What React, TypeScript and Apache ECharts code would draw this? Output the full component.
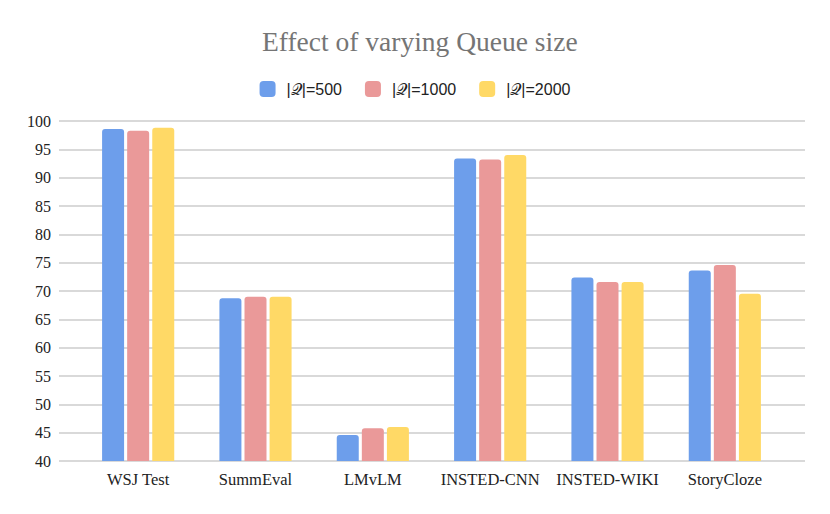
import React, { useEffect, useRef } from "react";
import * as echarts from "echarts";

const categories = ["WSJ Test", "SummEval", "LMvLM", "INSTED-CNN", "INSTED-WIKI", "StoryCloze"];
const seriesNames = ["|𝒬|=500", "|𝒬|=1000", "|𝒬|=2000"];
const q500 = [98.6, 68.7, 44.6, 93.4, 72.4, 73.6];
const q1000 = [98.3, 69.0, 45.8, 93.2, 71.6, 74.6];
const q2000 = [98.8, 69.0, 46.0, 94.0, 71.6, 69.5];
const colors = ["#6d9eeb", "#ea9999", "#ffd966"];

export default function App() {
  const ref = useRef<HTMLDivElement>(null);
  useEffect(() => {
    if (!ref.current) return;
    const chart = echarts.init(ref.current, undefined, { renderer: "svg" });
    const data = [q500, q1000, q2000];
    const labelFont = {
      fontFamily: "Liberation Serif",
      fontSize: 16.5,
      color: "#222",
    };
    chart.setOption({
      animation: false,
      backgroundColor: "#ffffff",
      title: {
        text: "Effect of varying Queue size",
        left: 249,
        top: 14,
        textStyle: {
          fontFamily: "Liberation Serif",
          fontSize: 27.5,
          fontWeight: "normal",
          color: "#757575",
        },
      },
      legend: {
        top: 68,
        left: "center",
        itemWidth: 16,
        itemHeight: 16,
        itemGap: 23,
        icon: "roundRect",
        textStyle: {
          fontFamily: "Liberation Sans, DejaVu Sans",
          fontSize: 16,
          color: "#222",
          padding: [0, 0, 0, 6],
        },
        data: seriesNames,
      },
      grid: [
        { left: 51, right: 17, top: 113, bottom: 45, containLabel: false },
        { left: 71.5, right: 38.5, top: 113, bottom: 45, containLabel: false },
      ],
      xAxis: [
        { type: "value", gridIndex: 0, min: 0, max: 1, show: false },
        {
          type: "category",
          gridIndex: 1,
          data: categories,
          axisTick: { show: false },
          axisLine: { show: false },
          axisLabel: { ...labelFont, margin: 10, interval: 0 },
        },
      ],
      yAxis: [
        {
          type: "value",
          gridIndex: 0,
          min: 40,
          max: 100,
          interval: 5,
          axisLine: { show: false },
          axisTick: { show: false },
          splitLine: { lineStyle: { color: "#cccccc", width: 1.5 } },
          axisLabel: { ...labelFont, fontSize: 16, margin: 8 },
        },
        {
          type: "value",
          gridIndex: 1,
          min: 40,
          max: 100,
          interval: 5,
          show: false,
          splitLine: { show: false },
        },
      ],
      series: seriesNames.map((name, i) => ({
        name,
        type: "bar",
        xAxisIndex: 1,
        yAxisIndex: 1,
        data: data[i],
        barWidth: 22,
        barGap: "14%",
        itemStyle: { color: colors[i], borderRadius: [3, 3, 0, 0] },
      })),
    });
    return () => chart.dispose();
  }, []);
  return <div ref={ref} style={{ width: 814, height: 498 }} />;
}
